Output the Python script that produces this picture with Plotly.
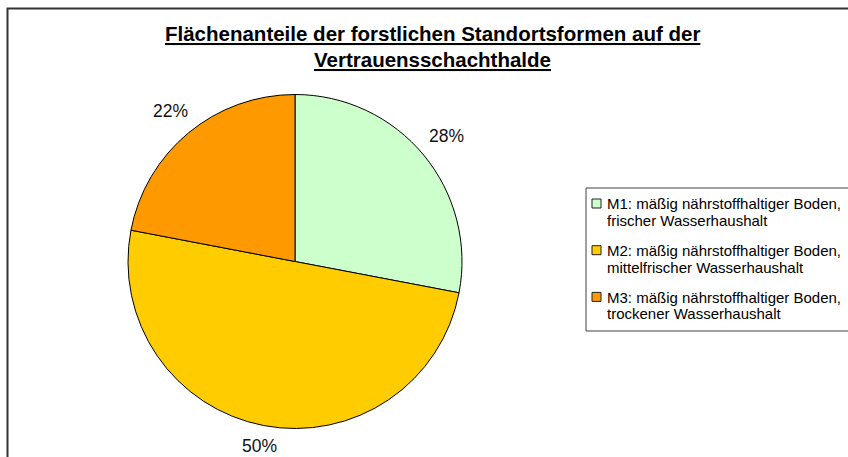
import math
import plotly.graph_objects as go

# Figure size in pixels
W, H = 848, 457

# Site types and their area shares (%)
categories = [
    "M1: mäßig nährstoffhaltiger Boden,<br>frischer Wasserhaushalt",
    "M2: mäßig nährstoffhaltiger Boden,<br>mittelfrischer Wasserhaushalt",
    "M3: mäßig nährstoffhaltiger Boden,<br>trockener Wasserhaushalt",
]
shares = [28, 50, 22]
colors = ["#CCFFCC", "#FFCC00", "#FF9900"]
title_lines = [
    "Flächenanteile der forstlichen Standortsformen auf der",
    "Vertrauensschachthalde",
]

FONT = "Liberation Sans, Arial, sans-serif"

# Pie placement in pixels (centre and radius)
CX, CY, R = 295, 261.5, 167


def px(x):
    return x / W


def py(y):
    return 1 - y / H


fig = go.Figure(
    go.Pie(
        labels=categories,
        values=shares,
        sort=False,
        direction="clockwise",
        rotation=0,
        marker=dict(colors=colors, line=dict(color="#000000", width=1)),
        textinfo="none",
        hoverinfo="label+percent",
        showlegend=False,
        domain=dict(
            x=[px(CX - R), px(CX + R)],
            y=[py(CY + R), py(CY - R)],
        ),
    )
)

annotations = []

# Percentage labels placed outside each slice at its mid angle
total = sum(shares)
cum = 0
for v in shares:
    mid = (cum + v / 2) / total * 2 * math.pi
    cum += v
    s, c = math.sin(mid), math.cos(mid)
    proj = 18 * abs(s) + 7 * abs(c)
    d = R + 11 + proj
    annotations.append(dict(
        x=px(CX + d * s), y=py(CY - d * c), xref="paper", yref="paper",
        text=f"{v}%", showarrow=False, xanchor="center", yanchor="middle",
        font=dict(family=FONT, size=17.5, color="#111111"),
    ))

# Title, bold and underlined
for i, line in enumerate(title_lines):
    annotations.append(dict(
        x=px(433), y=py(34 + 25 * i), xref="paper", yref="paper",
        text=f"<b>{line}</b>", showarrow=False,
        xanchor="center", yanchor="middle",
        font=dict(family=FONT, size=20.5, color="#000000", lineposition="under"),
    ))

shapes = [
    # outer chart frame
    dict(type="rect", xref="paper", yref="paper",
         x0=px(7.5), y0=py(500), x1=px(900), y1=py(8.5),
         line=dict(color="#333333", width=2), fillcolor="rgba(0,0,0,0)"),
    # legend frame
    dict(type="rect", xref="paper", yref="paper",
         x0=px(586), y0=py(331), x1=px(900), y1=py(188),
         line=dict(color="#404040", width=1), fillcolor="#FFFFFF"),
]

# Legend entries: colour swatch plus two text lines
for i, (lab, col) in enumerate(zip(categories, colors)):
    top = 199 + 46.7 * i
    shapes.append(dict(
        type="rect", xref="paper", yref="paper",
        x0=px(592), x1=px(601), y0=py(top + 9), y1=py(top),
        line=dict(color="#222222", width=1), fillcolor=col,
    ))
    for j, part in enumerate(lab.split("<br>")):
        annotations.append(dict(
            x=px(605), y=py(top + 5 + 16.5 * j), xref="paper", yref="paper",
            text=part, showarrow=False, xanchor="left", yanchor="middle",
            font=dict(family=FONT, size=15, color="#000000"),
        ))

fig.update_layout(
    width=W, height=H,
    margin=dict(l=0, r=0, t=0, b=0),
    paper_bgcolor="#FFFFFF",
    plot_bgcolor="#FFFFFF",
    shapes=shapes,
    annotations=annotations,
    showlegend=False,
)

fig.write_html("out.html")
